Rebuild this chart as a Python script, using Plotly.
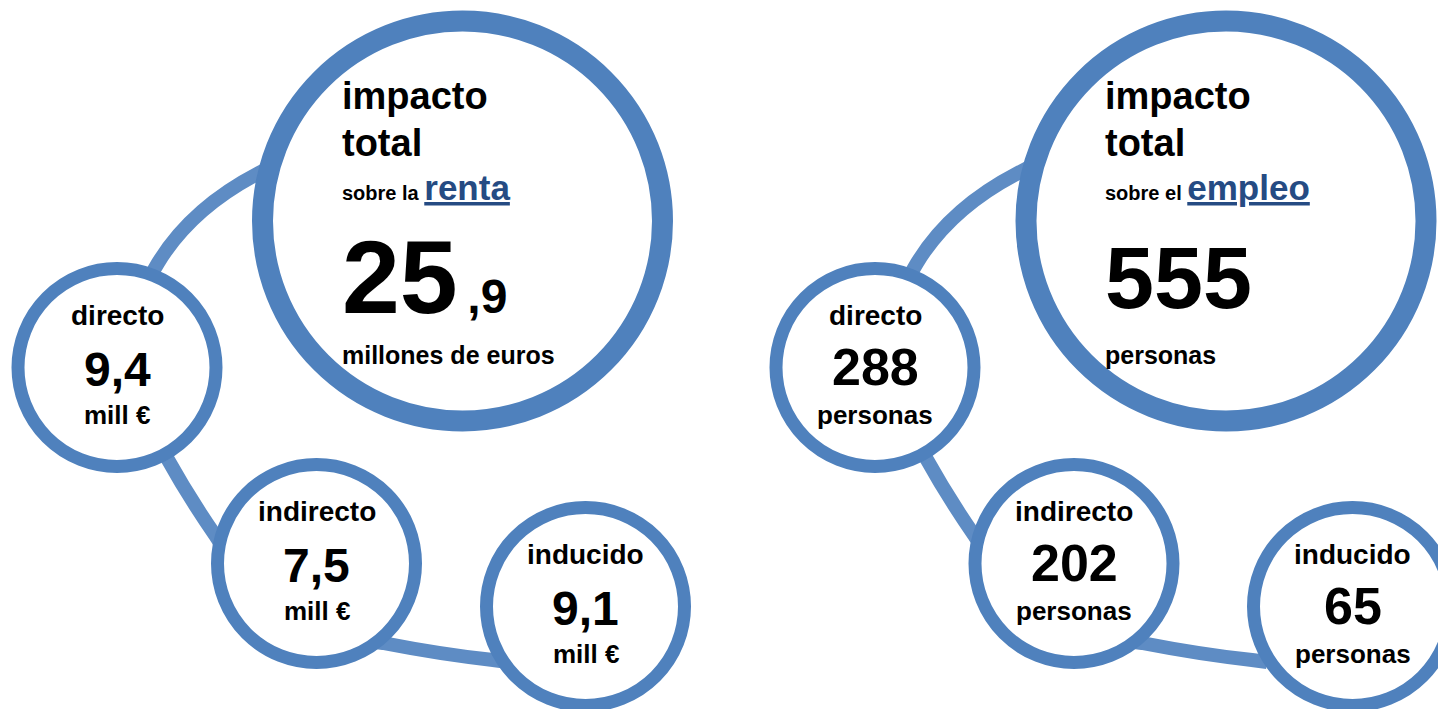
"""Impacto total sobre la renta y el empleo: circles infographic."""

from plotly import graph_objects as go

# data
parts = ["directo", "indirecto", "inducido"]
renta_parts = [9.4, 7.5, 9.1]
renta_total = 25.9
renta_unit = "mill €"
renta_total_unit = "millones de euros"
empleo_parts = [288, 202, 65]
empleo_total = 555
empleo_unit = "personas"
empleo_total_unit = "personas"

BLUE = "#4F81BD"
LINK = "#5E8CC4"
DARK = "#254B83"
FONT = "Liberation Sans"

# the page body has an 8px margin, so the axes start at 8px
PAD = 8

# layout of the two groups (pixel space)
groups = [
    {
        "big": (462.5, 221), "small": [(117, 367.5), (316.5, 563.5), (585.5, 606.5)],
        "text_x": 340, "dx": 0, "num_base": 313, "num_size": 104,
        "word": "renta", "prefix": "sobre la",
    },
    {
        "big": (1226, 221), "small": [(875, 367.5), (1074, 563.5), (1352.5, 606.5)],
        "text_x": 1103, "dx": 759, "num_base": 309, "num_size": 88,
        "word": "empleo", "prefix": "sobre el",
    },
]


def fmt(v):
    return f"{v:.1f}".replace(".", ",") if isinstance(v, float) else str(v)


def link_paths(dx):
    segs = [
        [(279, 162.5), (259, 173), (191.5, 208), (158, 263), (148, 280)],
        [(158, 444), (167, 458), (189, 497.5), (215, 535), (224, 549)],
        [(368, 641), (383, 643), (442, 654.5), (493, 660), (508, 662)],
    ]
    out = []
    for s, p0, c, p2, e in segs:
        out.append(
            f"M {s[0]+dx},{s[1]} L {p0[0]+dx},{p0[1]} Q {c[0]+dx},{c[1]} "
            f"{p2[0]+dx},{p2[1]} L {e[0]+dx},{e[1]}"
        )
    return out


def circle(cx, cy, r, w):
    return dict(
        type="circle", xref="x", yref="y",
        x0=cx - r, x1=cx + r, y0=cy - r, y1=cy + r,
        line=dict(color=BLUE, width=w), fillcolor="white", layer="above",
    )


def label(x, base, text, size, anchor="center", color="black"):
    # place text by its baseline
    return dict(
        x=x, y=base + 0.23 * size, xref="x", yref="y", text=text,
        showarrow=False, xanchor=anchor, yanchor="bottom",
        font=dict(family=FONT, size=size, color=color, weight=700),
    )


fig = go.Figure(go.Scatter(x=[], y=[]))
shapes = []
annotations = []

series = [
    (renta_parts, renta_total, renta_unit, renta_total_unit),
    (empleo_parts, empleo_total, empleo_unit, empleo_total_unit),
]

for g, (vals, total, unit, total_unit) in zip(groups, series):
    for p in link_paths(g["dx"]):
        shapes.append(dict(type="path", path=p, xref="x", yref="y",
                           line=dict(color=LINK, width=14), layer="above"))
    shapes.append(circle(*g["big"], 200, 21))
    for c in g["small"]:
        shapes.append(circle(*c, 99, 13))

    tx = g["text_x"]
    annotations.append(label(tx, 110, "impacto", 38, "left"))
    annotations.append(label(tx, 157, "total", 38, "left"))
    annotations.append(label(
        tx, 204,
        f"{g['prefix']} <span style='font-size:35px;color:{DARK}'><u>{g['word']}</u></span>",
        20, "left"))
    tot = fmt(total)
    if "," in tot:
        a, b = tot.split(",")
        tot = f"{a}<span style='font-size:48px'>\u2009,{b}</span>"
    annotations.append(label(tx, g["num_base"], tot, g["num_size"], "left"))
    annotations.append(label(tx, 365, total_unit, 25, "left"))

    num_size = 48 if isinstance(vals[0], float) else 52
    for (cx, cy), name, v in zip(g["small"], parts, vals):
        annotations.append(label(cx, cy - 41, name, 28))
        annotations.append(label(cx, cy + 19, fmt(v), num_size))
        annotations.append(label(cx, cy + 59, unit, 26))

fig.update_layout(
    width=1446 - PAD, height=709 - PAD,
    margin=dict(l=0, r=0, t=0, b=0),
    paper_bgcolor="white", plot_bgcolor="white",
    shapes=shapes, annotations=annotations,
    showlegend=False,
)
fig.update_xaxes(range=[PAD, 1446], visible=False, fixedrange=True)
fig.update_yaxes(range=[709, PAD], visible=False, fixedrange=True)

fig.write_html("out.html", config={"displayModeBar": False})
